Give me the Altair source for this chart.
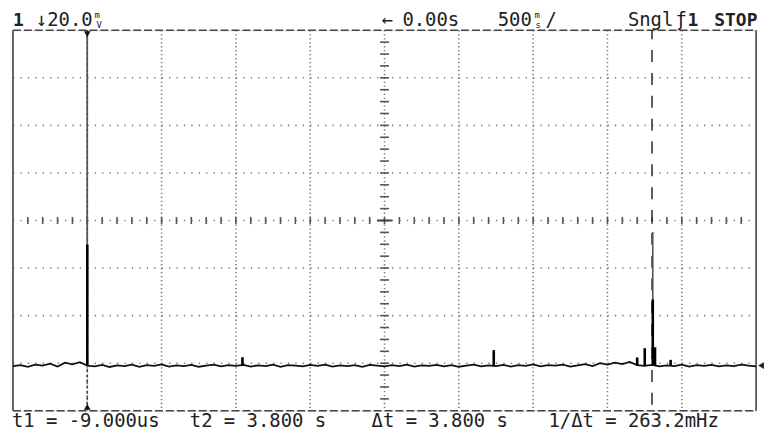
import altair as alt
import pandas as pd

# ---------------- data (time in s, 500 ms/div; amplitude in mV, 20 mV/div) -------------
trace_t = [-0.50, -0.45, -0.40, -0.35, -0.30, -0.25, -0.20, -0.15, -0.10, -0.05,
           0.00,
           0.05, 0.10, 0.15, 0.20, 0.25, 0.30, 0.35, 0.40, 0.45, 0.50,
           0.55, 0.60, 0.65, 0.70, 0.75, 0.80, 0.85, 0.90, 0.95, 1.00,
           1.05, 1.10, 1.15, 1.20, 1.25, 1.30, 1.35, 1.40, 1.45, 1.50,
           1.55, 1.60, 1.65, 1.70, 1.75, 1.80, 1.85, 1.90, 1.95, 2.00,
           2.05, 2.10, 2.15, 2.20, 2.25, 2.30, 2.35, 2.40, 2.45, 2.50,
           2.55, 2.60, 2.65, 2.70, 2.75, 2.80, 2.85, 2.90, 2.95, 3.00,
           3.05, 3.10, 3.15, 3.20, 3.25, 3.30, 3.35, 3.40, 3.45, 3.50,
           3.55, 3.60, 3.65, 3.70, 3.75, 3.80, 3.85, 3.90, 3.95, 4.00,
           4.05, 4.10, 4.15, 4.20, 4.25, 4.30, 4.35, 4.40, 4.45, 4.50]
trace_mv = [-61.2, -60.8, -61.5, -60.6, -61.0, -60.2, -61.4, -59.8, -60.5, -59.6,
            -61.0,
            -61.3, -60.7, -61.6, -60.9, -61.2, -60.6, -61.5, -60.8, -61.1, -60.5,
            -61.4, -60.9, -61.2, -60.7, -61.5, -61.0, -60.6, -61.3, -60.8, -61.1,
            -60.7, -61.4, -60.9, -61.2, -60.6, -61.5, -60.8, -61.0, -61.3, -60.7,
            -61.1, -60.6, -61.4, -60.9, -61.2, -60.8, -61.5, -60.7, -61.0, -61.3,
            -60.8, -61.2, -60.6, -61.4, -60.9, -61.1, -60.7, -61.3, -60.8, -61.5,
            -61.0, -60.6, -61.3, -60.9, -61.2, -60.7, -61.4, -60.8, -61.1, -60.5,
            -61.3, -60.8, -61.0, -60.6, -61.4, -60.9, -60.4, -61.2, -60.0, -60.6,
            -59.8, -60.4, -59.5, -60.8, -61.1, -60.7, -61.3, -60.9, -61.2, -60.6,
            -61.4, -60.8, -61.1, -60.7, -61.3, -60.9, -61.2, -60.6, -61.0, -61.3]

# light (sparsely sampled) upper part of the two large pulses
thin_t = [0.0, 3.805]
thin_top = [80.0, -4.8]
thin_base = [-61.0, -61.0]

# dense (dark) part of the pulses and the small glitches
bold_t = [0.0, 1.044, 2.735, 3.700, 3.751, 3.805, 3.820, 3.925]
bold_top = [-10.2, -57.5, -54.5, -57.6, -53.7, -33.2, -53.3, -58.6]
bold_base = [-61.0, -61.0, -61.0, -61.0, -61.0, -61.0, -61.0, -61.0]

cursor_t1 = 0.0
cursor_t2 = 3.8
ground_mv = -61.0

header_texts = ["1", "\u219320.0", "m", "V", "\u2190", "0.00s", "500", "m", "s", "/",
                "Sngl", "\u0192", "1", "STOP"]
footer_texts = ["t1 = -9.000us", "t2 = 3.800 s", "\u0394t = 3.800 s", "1/\u0394t = 263.2mHz"]

# ---------------- graticule definition (scale units) ----------------
major_t = [0.0, 0.5, 1.0, 1.5, 2.0, 2.5, 3.0, 3.5, 4.0]
major_mv = [-60, -40, -20, 0, 20, 40, 60]
x_min, x_max = -0.5, 4.5
y_min, y_max = -80.0, 80.0
minor_t = [round(x_min + 0.1 * k, 3) for k in range(1, 50)]
minor_mv = [y_min + 5 * k for k in range(1, 32)]

W, H = 748, 383
FONT = "DejaVu Sans Mono"
INK = "#222222"
GRID = "#7a7a7a"

xs = alt.Scale(domain=[x_min, x_max], nice=False, zero=False)
ys = alt.Scale(domain=[y_min, y_max], nice=False, zero=False)


def X(f):
    return alt.X(f, type="quantitative", scale=xs, axis=None)


def Y(f):
    return alt.Y(f, type="quantitative", scale=ys, axis=None)


one = pd.DataFrame({"a": [0]})
layers = []

# horizontal dotted grid lines
hg = pd.DataFrame({"v": major_mv, "x0": [x_min] * len(major_mv), "x1": [x_max] * len(major_mv)})
layers.append(alt.Chart(hg).mark_rule(color=GRID, strokeWidth=1.6, strokeDash=[1.3, 6.18])
              .encode(x=X("x0"), x2="x1", y=Y("v")))
# vertical dotted grid lines
vg = pd.DataFrame({"t": major_t, "y0": [y_max] * len(major_t), "y1": [y_min] * len(major_t)})
layers.append(alt.Chart(vg).mark_rule(color=GRID, strokeWidth=1.6, strokeDash=[1.3, 2.69])
              .encode(x=X("t"), y=Y("y0"), y2="y1"))
# minor ticks on the centre horizontal line
mh = pd.DataFrame({"t": minor_t, "a": [-1.5] * len(minor_t), "b": [1.5] * len(minor_t)})
layers.append(alt.Chart(mh).mark_rule(color="#555555", strokeWidth=1.6)
              .encode(x=X("t"), y=Y("a"), y2="b"))
# minor ticks on the centre vertical line
mv = pd.DataFrame({"v": minor_mv, "a": [2.0 - 0.03] * len(minor_mv), "b": [2.0 + 0.03] * len(minor_mv)})
layers.append(alt.Chart(mv).mark_rule(color="#555555", strokeWidth=1.6)
              .encode(y=Y("v"), x=X("a"), x2="b"))
# centre cross
cc = pd.DataFrame({"a": [1.95], "b": [2.05], "v": [0.0]})
layers.append(alt.Chart(cc).mark_rule(color="#444444", strokeWidth=2)
              .encode(y=Y("v"), x=X("a"), x2="b"))

# frame: solid sides, dashed top / bottom
sides = pd.DataFrame({"t": [x_min, x_max], "y0": [y_max, y_max], "y1": [y_min, y_min]})
layers.append(alt.Chart(sides).mark_rule(color="#444444", strokeWidth=1.6)
              .encode(x=X("t"), y=Y("y0"), y2="y1"))
tb = pd.DataFrame({"v": [y_max, y_min], "x0": [x_min, x_min], "x1": [x_max, x_max]})
layers.append(alt.Chart(tb).mark_rule(color="#444444", strokeWidth=1.6, strokeDash=[8, 3])
              .encode(x=X("x0"), x2="x1", y=Y("v")))

# cursors
c1 = pd.DataFrame({"t": [cursor_t1], "y0": [y_max], "y1": [y_min]})
layers.append(alt.Chart(c1).mark_rule(color="#444444", strokeWidth=1.6, strokeDash=[3, 2.5])
              .encode(x=X("t"), y=Y("y0"), y2="y1"))
c2 = pd.DataFrame({"t": [cursor_t2], "y0": [y_max], "y1": [y_min]})
layers.append(alt.Chart(c2).mark_rule(color="#333333", strokeWidth=1.6, strokeDash=[12, 11],
                                       strokeDashOffset=3)
              .encode(x=X("t"), y=Y("y0"), y2="y1"))

# trace
tr = pd.DataFrame({"t": trace_t, "v": trace_mv})
layers.append(alt.Chart(tr).mark_line(color="#111111", strokeWidth=1.8)
              .encode(x=X("t"), y=Y("v")))
th = pd.DataFrame({"t": thin_t, "top": thin_top, "base": thin_base})
layers.append(alt.Chart(th).mark_rule(color="#555555", strokeWidth=1.6)
              .encode(x=X("t"), y=Y("base"), y2="top"))
bd = pd.DataFrame({"t": bold_t, "top": bold_top, "base": bold_base})
layers.append(alt.Chart(bd).mark_rule(color="#000000", strokeWidth=2.6)
              .encode(x=X("t"), y=Y("base"), y2="top"))

# cursor markers and ground marker
mk = pd.DataFrame({"t": [cursor_t1]})
layers.append(alt.Chart(mk).mark_point(shape="triangle-down", filled=True, color="#111111",
                                       size=45, opacity=1)
              .encode(x=X("t"), y=alt.value(4)))
layers.append(alt.Chart(mk).mark_point(shape="triangle-up", filled=True, color="#111111",
                                       size=45, opacity=1)
              .encode(x=X("t"), y=alt.value(H - 4)))
gm = pd.DataFrame({"v": [ground_mv]})
layers.append(alt.Chart(gm).mark_point(shape="triangle-left", filled=True, color="#222222",
                                       size=45, opacity=1)
              .encode(x=alt.value(W + 5), y=Y("v")))


def txt(s, px, py, size=19, weight="normal"):
    return (alt.Chart(one)
            .mark_text(text=s, align="left", baseline="alphabetic", font=FONT,
                       fontSize=size, fontWeight=weight, color=INK)
            .encode(x=alt.value(px), y=alt.value(py)))


hpos = [(0, -4, 18, "bold"), (23, -4, 19, "normal"), (82, -12, 9, "normal"),
        (84, -2, 9, "normal"), (371, -4, 19, "normal"), (392, -4, 19, "normal"),
        (488, -4, 19, "normal"), (525, -12, 9, "normal"), (526, -2, 9, "normal"),
        (536, -4, 19, "normal"), (619, -4, 19, "normal"), (667, -4, 19, "normal"),
        (679, -4, 18, "bold"), (706, -4, 18, "bold")]
for s, (px, py, sz, wt) in zip(header_texts, hpos):
    layers.append(txt(s, px, py, sz, wt))

fpos = [-1, 178, 361, 539]
for s, px in zip(footer_texts, fpos):
    layers.append(txt(s, px, H + 16))

chart = (alt.layer(*layers)
         .properties(width=W, height=H,
                     autosize=alt.AutoSizeParams(type="none"),
                     padding={"left": 5, "top": 21, "right": 10, "bottom": 20})
         .configure_view(stroke=None)
         .configure(background="white"))

chart.save("out.html", embed_options={"renderer": "svg", "actions": False})
